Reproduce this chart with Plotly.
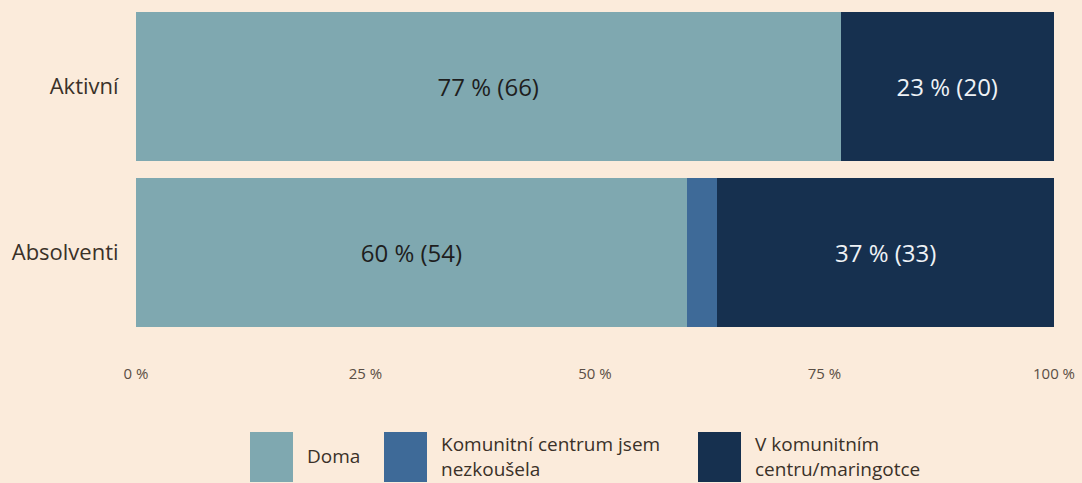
import plotly.graph_objects as go

categories = ["Aktivní", "Absolventi"]
series_names = ["Doma", "Komunitní centrum jsem nezkoušela", "V komunitním centru/maringotce"]
legend_labels = ["Doma", "Komunitní centrum jsem<br>nezkoušela", "V komunitním<br>centru/maringotce"]
counts_doma = [66, 54]
counts_komunitni = [0, 3]
counts_v_centru = [20, 33]
tick_values = [0, 25, 50, 75, 100]

colors = ["#7fa8b0", "#3e6a98", "#16304f"]
text_colors = ["#1e1e1e", "#ffffff", "#eef2f6"]
bg = "#fbebdb"
font_family = "Open Sans, DejaVu Sans, sans-serif"

all_counts = [counts_doma, counts_komunitni, counts_v_centru]
totals = [sum(c[i] for c in all_counts) for i in range(len(categories))]

W, H = 1082, 483
ml, mr, mt, mb = 136, 28, 4, 148

fig = go.Figure()
for name, counts, col, tcol in zip(series_names, all_counts, colors, text_colors):
    pct = [100 * c / t for c, t in zip(counts, totals)]
    texts = [f"{round(p)} % ({c})" if p >= 10 else "" for p, c in zip(pct, counts)]
    fig.add_trace(go.Bar(
        y=categories, x=pct, orientation="h", name=name,
        marker=dict(color=col, line=dict(width=0)),
        text=texts, textposition="inside", insidetextanchor="middle",
        textfont=dict(family=font_family, size=24, color=tcol),
        showlegend=False, hoverinfo="skip",
    ))

fig.update_layout(
    barmode="stack", bargap=0.1,
    width=W, height=H,
    margin=dict(l=ml, r=mr, t=mt, b=mb, pad=0),
    paper_bgcolor=bg, plot_bgcolor=bg,
    font=dict(family=font_family, color="#3a3128"),
    uniformtext=dict(mode="show", minsize=10),
)
fig.update_xaxes(
    range=[0, 100], tickvals=tick_values, ticktext=[f"{v} %" for v in tick_values],
    showgrid=False, zeroline=False, showline=False,
    ticks="outside", ticklen=25, tickcolor="rgba(0,0,0,0)",
    tickfont=dict(size=15, color="#5a4e44"),
)
fig.update_yaxes(
    autorange="reversed", showgrid=False, zeroline=False, showline=False,
    ticks="outside", ticklen=12, tickcolor="rgba(0,0,0,0)",
    tickfont=dict(size=22, color="#3a3128"),
)

# manual legend with tall swatches (layout positions in pixels -> paper coords)
pw, ph = W - ml - mr, H - mt - mb
def px(x):
    return (x - ml) / pw
def py(y):
    return (H - mb - y) / ph

swatch_x = [250, 384, 698]
for i, (sx, col, lab) in enumerate(zip(swatch_x, colors, legend_labels)):
    fig.add_shape(type="rect", xref="paper", yref="paper",
                  x0=px(sx), x1=px(sx + 43), y0=py(482), y1=py(432),
                  fillcolor=col, line=dict(width=0), layer="above")
    fig.add_annotation(xref="paper", yref="paper", x=px(sx + 55), y=py(456),
                       text=lab, showarrow=False, xanchor="left", yanchor="middle",
                       align="left", font=dict(size=19, color="#3a3128", family=font_family))

fig.write_html("out.html", config={"displayModeBar": False},
               post_script="document.body.style.margin='0';document.body.style.background='" + bg + "';")
